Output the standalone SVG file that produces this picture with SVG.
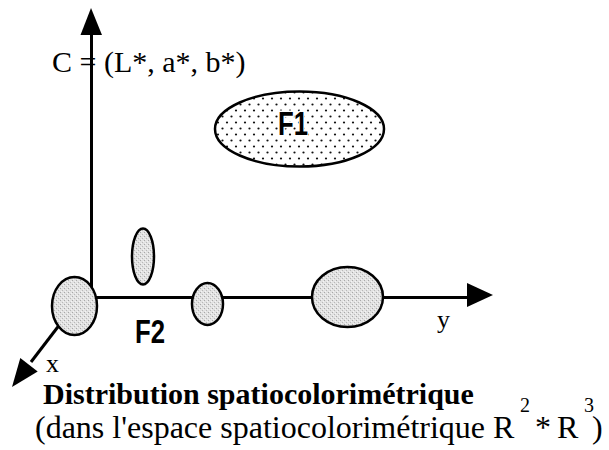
<svg xmlns="http://www.w3.org/2000/svg" width="609" height="450" viewBox="0 0 609 450">
  <defs>
    <pattern id="dots" width="9" height="12" patternUnits="userSpaceOnUse">
      <rect width="9" height="12" fill="#ffffff"/>
      <circle cx="2" cy="2.5" r="1.1" fill="#111"/>
      <circle cx="6.5" cy="8.5" r="1.1" fill="#111"/>
    </pattern>
    <pattern id="grain" width="4" height="4" patternUnits="userSpaceOnUse">
      <rect width="4" height="4" fill="#e2e2e2"/>
      <rect x="0" y="0" width="1" height="1" fill="#a8a8a8"/>
      <rect x="2" y="2" width="1" height="1" fill="#b8b8b8"/>
      <rect x="3" y="1" width="1" height="1" fill="#f4f4f4"/>
      <rect x="1" y="3" width="1" height="1" fill="#f4f4f4"/>
    </pattern>
  </defs>
  <style>
    .axis { stroke: #000; stroke-width: 3; fill: none; }
    .head { fill: #000; stroke: none; }
    .blob { fill: url(#grain); stroke: #000; stroke-width: 2.5; }
    .cluster { fill: url(#dots); stroke: #000; stroke-width: 2.5; }
    .serif { font-family: "Liberation Serif", "Times New Roman", Times, serif; fill: #000; }
    .flabel { font-family: "Liberation Sans", Arial, sans-serif; font-weight: bold; font-size: 33px; fill: #000; }
  </style>
  <rect width="609" height="450" fill="#ffffff"/>

  <g id="connectors">
    <line class="axis" x1="91.5" y1="30" x2="91.5" y2="298"/>
    <polygon class="head" points="91,8 80.5,35 102,35"/>
    <line class="axis" x1="80" y1="297.5" x2="470" y2="297.5"/>
    <polygon class="head" points="493,295 467,283 467,307"/>
    <line class="axis" x1="80" y1="298" x2="31" y2="362"/>
    <polygon class="head" points="12,387 20.3,358.1 37.7,371.5"/>
  </g>

  <g id="origin-blob">
    <ellipse class="blob" cx="74.5" cy="306" rx="22.5" ry="29"/>
  </g>
  <g id="vertical-blob">
    <ellipse class="blob" cx="143" cy="256.5" rx="11" ry="28"/>
  </g>
  <g id="small-blob">
    <ellipse class="blob" cx="207.5" cy="304" rx="15.5" ry="21"/>
  </g>
  <g id="large-blob">
    <ellipse class="blob" cx="347.5" cy="297" rx="35.5" ry="30"/>
  </g>
  <g id="F1">
    <ellipse class="cluster" cx="299.5" cy="129" rx="84.5" ry="37.5"/>
    <text class="flabel" x="278" y="135" textLength="30" lengthAdjust="spacingAndGlyphs" stroke="#fff" stroke-width="3" paint-order="stroke">F1</text>
  </g>
  <g id="F2">
    <text class="flabel" x="135" y="343" textLength="30" lengthAdjust="spacingAndGlyphs">F2</text>
  </g>

  <g id="labels">
    <text class="serif" x="52" y="72" font-size="30">C = (L*, a*, b*)</text>
    <text class="serif" x="437" y="328" font-size="26">y</text>
    <text class="serif" x="46" y="372" font-size="26">x</text>
    <text class="serif" x="43" y="404" font-size="30" font-weight="bold">Distribution spatiocolorimétrique</text>
    <text class="serif" x="35" y="438" font-size="32">(dans l'espace spatiocolorimétrique R</text>
    <text class="serif" x="520" y="412" font-size="20">2</text>
    <text class="serif" x="535" y="438" font-size="32">*</text>
    <text class="serif" x="557" y="438" font-size="32">R</text>
    <text class="serif" x="584" y="412" font-size="20">3</text>
    <text class="serif" x="592" y="438" font-size="32">)</text>
  </g>
</svg>
